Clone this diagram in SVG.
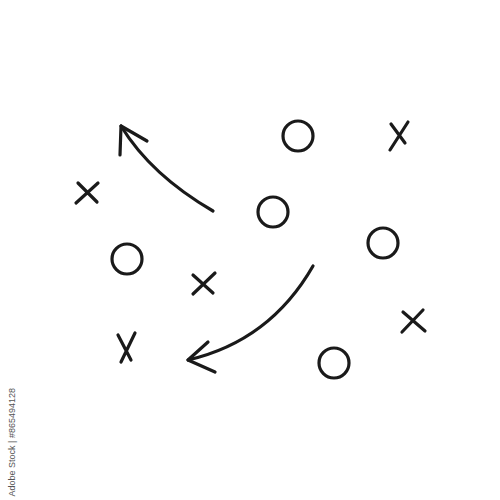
<svg xmlns="http://www.w3.org/2000/svg" width="500" height="500" viewBox="0 0 500 500">
<style>
.s{fill:none;stroke:#1a1a1a;stroke-width:3.2;stroke-linecap:round;stroke-linejoin:round}
.id{font-family:"Liberation Sans",Arial,sans-serif;font-size:9px;fill:#555}
</style>
<rect width="500" height="500" fill="#fff"/>
<g id="connectors">
<g id="arrow1"><path class="s" d="M213,211 Q151,175 121,126"/><path class="s" d="M147,141 L121,126 L120,155"/></g>
<g id="arrow2"><path class="s" d="M313,266 Q270,341 188,360"/><path class="s" d="M208,342 L188,360 L215,372"/></g>
</g>
<g id="x1"><path class="s" d="M78,183 L97,202 M98,183 L76,203"/></g>
<g id="x2"><path class="s" d="M391,124 L405,143 M408,122 L390,150"/></g>
<g id="x3"><path class="s" d="M193,275 L213,293 M215,273 L193,294"/></g>
<g id="x4"><path class="s" d="M118,335 L131,360 M135,333 L121,362"/></g>
<g id="x5"><path class="s" d="M403,312 L425,331 M423,310 L402,332"/></g>
<g id="o1"><circle class="s" cx="298" cy="136" r="15"/></g>
<g id="o2"><circle class="s" cx="273" cy="212" r="15"/></g>
<g id="o3"><circle class="s" cx="383" cy="243" r="15"/></g>
<g id="o4"><circle class="s" cx="127" cy="259" r="15"/></g>
<g id="o5"><circle class="s" cx="334" cy="363" r="15"/></g>
<text class="id" transform="translate(15,388) rotate(-90)" text-anchor="end">Adobe Stock | #865494128</text>
</svg>
